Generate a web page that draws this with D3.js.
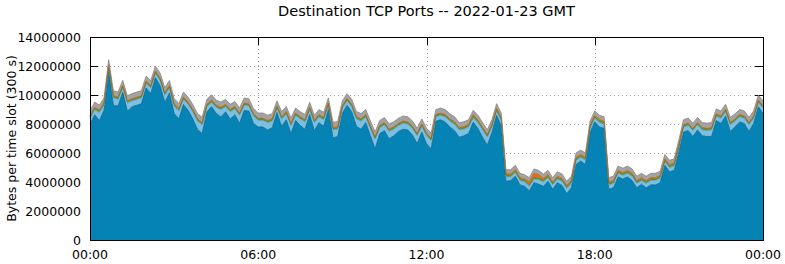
<!DOCTYPE html>
<html>
<head>
<meta charset="utf-8">
<script src="https://cdn.jsdelivr.net/npm/d3@7"></script>
<style>
  body { margin: 0; background: #fff; }
  svg { display: block; }
</style>
</head>
<body>
<div id="chart"></div>
<script>
// values per 10 minute step, in millions of bytes per 300 s slot
var port1 = [7.99,8.64,8.24,8.94,11.64,9.29,9.24,10.19,8.89,9.19,
  9.29,9.39,10.49,10.09,11.19,10.64,9.49,10.14,8.74,8.34,
  9.34,8.94,8.34,7.64,7.34,8.84,9.19,8.74,8.49,8.84,
  8.34,8.64,8.04,8.94,8.89,8.04,7.79,7.79,7.59,7.74,
  8.79,7.84,8.29,7.34,8.24,7.89,7.64,8.64,7.54,8.09,
  7.84,8.99,7.04,7.14,8.74,9.29,8.84,7.84,7.64,8.09,
  7.19,6.29,7.34,7.54,6.99,7.19,7.49,7.64,7.59,7.24,
  6.64,7.44,6.64,6.29,8.19,8.29,8.14,7.79,7.54,7.09,
  7.19,7.34,8.13,7.69,7.09,6.54,7.39,8.59,7.89,4.05,
  4.10,4.40,3.80,3.70,3.40,3.95,3.85,3.70,4.05,3.50,
  3.95,3.75,3.20,3.60,5.20,5.45,5.20,7.40,8.15,7.80,
  7.70,3.50,3.60,4.35,4.20,4.35,4.10,3.60,3.85,3.60,
  3.80,3.80,3.95,5.15,4.70,4.80,6.09,7.44,7.54,7.14,
  7.59,7.19,7.14,7.14,8.24,8.04,8.54,7.49,7.79,8.14,
  8.04,7.49,8.04,9.19,8.74];
var port2 = [.40,.35,.55,.35,.30,.50,.45,.30,.55,.40,
  .40,.40,.30,.40,.30,.35,.50,.35,.50,.55,
  .35,.40,.50,.55,.60,.35,.30,.40,.50,.35,
  .50,.40,.55,.35,.35,.50,.45,.45,.50,.45,
  .30,.50,.40,.55,.35,.45,.50,.35,.55,.40,
  .45,.30,.55,.50,.35,.30,.35,.50,.55,.40,
  .50,.65,.40,.40,.50,.45,.40,.40,.40,.45,
  .55,.40,.55,.55,.30,.30,.35,.40,.45,.50,
  .45,.45,.30,.40,.50,.55,.40,.30,.35,.30,
  .25,.25,.30,.30,.30,.25,.30,.30,.25,.30,
  .25,.30,.35,.30,.30,.25,.30,.30,.25,.30,
  .30,.30,.30,.25,.25,.25,.30,.30,.25,.30,
  .30,.30,.30,.25,.30,.30,.30,.35,.35,.40,
  .35,.40,.40,.45,.30,.35,.30,.45,.40,.35,
  .35,.45,.35,.30,.35];
var port3 = [.10,.10,.11,.10,.09,.10,.10,.11,.10,.10,
  .10,.09,.10,.10,.10,.11,.10,.10,.10,.10,
  .10,.10,.09,.10,.10,.10,.11,.10,.10,.10,
  .10,.10,.10,.10,.09,.10,.10,.10,.10,.11,
  .10,.10,.10,.10,.10,.10,.09,.10,.10,.10,
  .11,.10,.10,.10,.10,.10,.10,.10,.11,.10,
  .10,.10,.10,.09,.10,.10,.10,.10,.10,.10,
  .10,.10,.10,.11,.10,.10,.10,.10,.10,.09,
  .10,.10,.10,.10,.10,.10,.10,.11,.10,.10,
  .10,.10,.10,.10,.10,.10,.10,.10,.10,.10,
  .10,.10,.11,.10,.10,.10,.10,.10,.10,.10,
  .10,.10,.10,.10,.10,.10,.10,.10,.10,.10,
  .10,.10,.10,.10,.10,.10,.10,.10,.11,.10,
  .10,.10,.10,.10,.10,.10,.11,.10,.10,.10,
  .10,.10,.10,.10,.10];
var port4 = [.06,.06,.06,.06,.06,.06,.06,.06,.06,.06,
  .06,.06,.06,.06,.06,.06,.06,.06,.06,.06,
  .06,.06,.06,.06,.06,.06,.06,.06,.06,.06,
  .06,.06,.06,.06,.06,.06,.06,.06,.06,.06,
  .06,.06,.06,.06,.06,.06,.06,.06,.06,.06,
  .06,.06,.06,.06,.06,.06,.06,.06,.06,.06,
  .06,.06,.06,.06,.06,.06,.06,.06,.06,.06,
  .06,.06,.06,.06,.06,.06,.06,.06,.06,.06,
  .08,.08,.12,.08,.08,.08,.08,.08,.08,.10,
  .10,.10,.10,.10,.20,.30,.25,.15,.10,.10,
  .10,.10,.10,.10,.10,.10,.10,.10,.10,.10,
  .10,.10,.10,.10,.10,.10,.10,.10,.10,.10,
  .10,.10,.10,.10,.10,.10,.06,.06,.06,.06,
  .06,.06,.06,.06,.06,.06,.06,.06,.06,.06,
  .06,.06,.06,.06,.06];
var otherPorts = [.35,.36,.35,.35,.34,.35,.36,.35,.35,.35,
  .35,.36,.35,.35,.34,.35,.35,.35,.36,.36,
  .35,.35,.35,.36,.37,.35,.35,.35,.36,.35,
  .36,.35,.36,.35,.35,.35,.36,.36,.36,.35,
  .34,.36,.35,.36,.35,.35,.36,.35,.36,.35,
  .35,.34,.37,.37,.35,.34,.35,.36,.36,.35,
  .36,.36,.35,.35,.36,.35,.35,.35,.35,.36,
  .36,.35,.36,.36,.34,.35,.35,.35,.35,.36,
  .33,.33,.29,.33,.33,.33,.33,.32,.33,.30,
  .30,.30,.30,.30,.30,.30,.30,.30,.30,.30,
  .30,.30,.29,.30,.30,.30,.30,.30,.30,.30,
  .30,.30,.30,.30,.30,.30,.30,.30,.30,.30,
  .30,.30,.30,.30,.30,.30,.35,.35,.35,.36,
  .35,.35,.36,.36,.34,.35,.35,.36,.35,.35,
  .35,.36,.35,.34,.35];

var yTicks = [0, 2e6, 4e6, 6e6, 8e6, 10e6, 12e6, 14e6];
var xTickLabels = ["00:00", "06:00", "12:00", "18:00", "00:00"];

var keys = ["port1", "port2", "port3", "port4", "otherPorts"];
var colors = ["#0683b5", "#7dbfe2", "#5c9a2c", "#e0711a", "#a3a3a3"];
var edges = ["#05628a", "#5aa3c8", "#4a8020", "#c05a10", "#858585"];

var width = 785, height = 264;
var margin = {left: 90, right: 22, top: 37, bottom: 24};

var start = Date.UTC(2022, 0, 23);
var rows = port1.map(function(v, i) {
  return {
    time: new Date(start + i * 600000),
    port1: v * 1e6, port2: port2[i] * 1e6, port3: port3[i] * 1e6,
    port4: port4[i] * 1e6, otherPorts: otherPorts[i] * 1e6
  };
});

var x = d3.scaleUtc()
  .domain([new Date(start), new Date(start + 86400000)])
  .range([margin.left, width - margin.right]);
var y = d3.scaleLinear()
  .domain([0, 14e6])
  .range([height - margin.bottom, margin.top]);

var svg = d3.select("#chart").append("svg")
  .attr("width", width)
  .attr("height", height)
  .attr("font-family", "DejaVu Sans, sans-serif")
  .attr("font-size", 12.5);

var x0 = margin.left, x1 = width - margin.right;
var y0 = height - margin.bottom, y1 = margin.top;
var xTicks = x.ticks(d3.utcHour.every(6));

// grid, behind the areas
var grid = svg.append("g").attr("stroke", "#a0a0a0").attr("stroke-dasharray", "1,3");
grid.selectAll("line.gy").data(yTicks.slice(1, -1)).enter().append("line")
  .attr("x1", x0).attr("x2", x1)
  .attr("y1", function(d) { return y(d) + 0.5; })
  .attr("y2", function(d) { return y(d) + 0.5; });
grid.selectAll("line.gx").data(xTicks.slice(1, -1)).enter().append("line")
  .attr("y1", y1).attr("y2", y0)
  .attr("x1", function(d) { return Math.round(x(d)) + 0.5; })
  .attr("x2", function(d) { return Math.round(x(d)) + 0.5; });

// inward tick marks, mirrored
var ticks = svg.append("g").attr("stroke", "#000");
yTicks.forEach(function(d) {
  var yy = Math.round(y(d)) + 0.5;
  ticks.append("line").attr("x1", x0).attr("x2", x0 + 8).attr("y1", yy).attr("y2", yy);
  ticks.append("line").attr("x1", x1 - 8).attr("x2", x1).attr("y1", yy).attr("y2", yy);
});
xTicks.forEach(function(d) {
  var xx = Math.round(x(d)) + 0.5;
  ticks.append("line").attr("x1", xx).attr("x2", xx).attr("y1", y0).attr("y2", y0 - 8);
  ticks.append("line").attr("x1", xx).attr("x2", xx).attr("y1", y1).attr("y2", y1 + 8);
});

// stacked areas
var series = d3.stack().keys(keys)(rows);
var area = d3.area()
  .x(function(d) { return x(d.data.time); })
  .y0(function(d) { return y(d[0]); })
  .y1(function(d) { return y(d[1]); });
var topLine = d3.line()
  .x(function(d) { return x(d.data.time); })
  .y(function(d) { return y(d[1]); });

svg.append("g").selectAll("path").data(series).enter().append("path")
  .attr("d", area)
  .attr("fill", function(d, i) { return colors[i]; });
svg.append("g").selectAll("path").data(series).enter().append("path")
  .attr("d", topLine)
  .attr("fill", "none")
  .attr("stroke-width", 0.8)
  .attr("stroke", function(d, i) { return edges[i]; });

// frame
svg.append("rect")
  .attr("x", x0 + 0.5).attr("y", y1 + 0.5)
  .attr("width", x1 - x0).attr("height", y0 - y1)
  .attr("fill", "none").attr("stroke", "#000");

// tick labels
svg.append("g").attr("text-anchor", "end")
  .selectAll("text").data(yTicks).enter().append("text")
  .attr("x", x0 - 9)
  .attr("y", function(d) { return y(d); })
  .attr("dy", "0.36em")
  .text(function(d) { return d3.format("d")(d); });

svg.append("g").attr("text-anchor", "middle")
  .selectAll("text").data(xTicks).enter().append("text")
  .attr("x", function(d) { return x(d); })
  .attr("y", y0 + 19)
  .text(function(d, i) { return xTickLabels[i]; });

svg.append("text")
  .attr("x", (x0 + x1) / 2)
  .attr("y", 16)
  .attr("text-anchor", "middle")
  .attr("font-size", 14.5)
  .text("Destination TCP Ports -- 2022-01-23 GMT");

svg.append("text")
  .attr("transform", "translate(16," + ((y0 + y1) / 2) + ") rotate(-90)")
  .attr("text-anchor", "middle")
  .text("Bytes per time slot (300 s)");
</script>
</body>
</html>
